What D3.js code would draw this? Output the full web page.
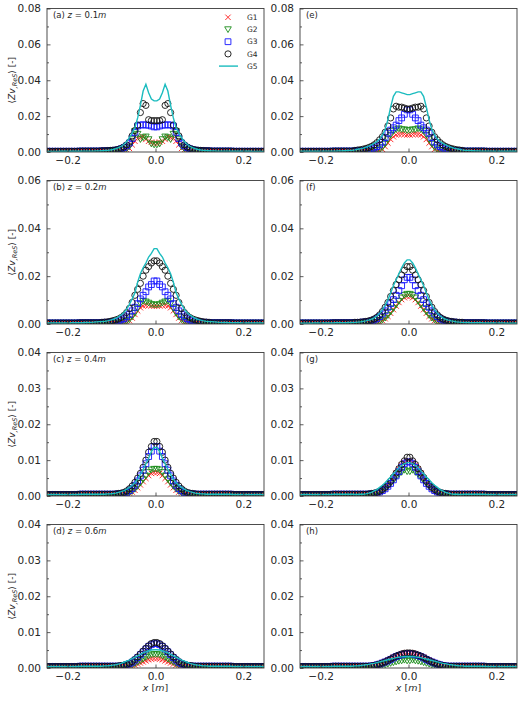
<!DOCTYPE html>
<html><head><meta charset="utf-8">
<script src="https://cdn.jsdelivr.net/npm/d3@7"></script>
<style>
body{margin:0;background:#fff}
svg{display:block}
text{font-family:"DejaVu Sans",sans-serif;fill:#262626}
</style>
</head><body><svg id="c" width="522" height="705"></svg>
<script>
// ---------- DATA ----------
const xGrid = [-.246875,-.240625,-.234375,-.228125,-.221875,-.215625,-.209375,-.203125,-.196875,-.190625,
 -.184375,-.178125,-.171875,-.165625,-.159375,-.153125,-.146875,-.140625,-.134375,-.128125,
 -.121875,-.115625,-.109375,-.103125,-.096875,-.090625,-.084375,-.078125,-.071875,-.065625,
 -.059375,-.053125,-.046875,-.040625,-.034375,-.028125,-.021875,-.015625,-.009375,-.003125,
 .003125,.009375,.015625,.021875,.028125,.034375,.040625,.046875,.053125,.059375,
 .065625,.071875,.078125,.084375,.090625,.096875,.103125,.109375,.115625,.121875,
 .128125,.134375,.140625,.146875,.153125,.159375,.165625,.171875,.178125,.184375,
 .190625,.196875,.203125,.209375,.215625,.221875,.228125,.234375,.240625,.246875];

const seriesNames = ["G1","G2","G3","G4","G5"];
const panelLetters = ["(a)","(b)","(c)","(d)","(e)","(f)","(g)","(h)"];
const panelZ = ["0.1","0.2","0.4","0.6",null,null,null,null];
const yTicks08 = [0,.02,.04,.06,.08], yMinor08 = [.01,.03,.05,.07];
const yTicks06 = [0,.02,.04,.06], yMinor06 = [.01,.03,.05];
const yTicks04 = [0,.01,.02,.03,.04], yMinor04 = [.005,.015,.025,.035];
const xTicks = [-0.2,0,0.2];
const xTickLabels = ["\u22120.2","0.0","0.2"];

// outer (tail) values, |x| > 0.125
const mTailL = [.0004,.0004,.0004,.0004,.0004,.0004,.0004,.0004,.0004,.0004,.0004,.0004,.0005,.0005,.0005,.0005,.0005,.0005,.0005,.0005];
const mTailR = [.0005,.0005,.0005,.0005,.0005,.0005,.0005,.0005,.0004,.0004,.0004,.0004,.0004,.0004,.0004,.0004,.0004,.0004,.0004,.0004];
const lTailL = [.0003,.0003,.0003,.0003,.0003,.0004,.0004,.0004,.0004,.0004,.0004,.0004,.0004,.0005,.0005,.0005,.0005,.0005,.0006,.0006];
const lTailR = [.0006,.0006,.0005,.0005,.0005,.0005,.0005,.0004,.0004,.0004,.0004,.0004,.0004,.0004,.0004,.0003,.0003,.0003,.0003,.0003];
const wTailL = [.0004,.0004,.0004,.0004,.0004,.0004,.0004,.0004,.0004,.0005,.0005,.0005,.0005,.0005,.0006,.0006,.0007,.0008,.0009,.001];
const wTailR = [.001,.0009,.0008,.0007,.0006,.0006,.0005,.0005,.0005,.0005,.0005,.0004,.0004,.0004,.0004,.0004,.0004,.0004,.0004,.0004];

// panel (a) z=0.1
const G1a = [...mTailL, .0005,.0005,.0005,.0005,.0005,.0005,.0005,.0006,.0008,.0012,.002,.004,.006,.0075,.008,.0085,.007,.006,.0055,.005,
 .005,.0055,.006,.007,.0085,.008,.0075,.006,.004,.002,.0012,.0008,.0006,.0005,.0005,.0005,.0005,.0005,.0005,.0005, ...mTailR];
const G2a = [...mTailL, .0005,.0005,.0005,.0005,.0005,.0006,.0007,.0009,.0012,.0018,.003,.007,.0115,.010,.007,.008,.0085,.007,.0045,.004,
 .004,.0045,.007,.0085,.008,.007,.010,.0115,.007,.003,.0018,.0012,.0009,.0007,.0006,.0005,.0005,.0005,.0005,.0005, ...mTailR];
const G3a = [...mTailL, .0006,.0007,.0007,.0008,.0009,.001,.0013,.0018,.0025,.0035,.005,.0075,.011,.0145,.015,.0152,.015,.015,.0145,.014,
 .014,.0145,.015,.015,.0152,.015,.0145,.011,.0075,.005,.0035,.0025,.0018,.0013,.001,.0009,.0008,.0007,.0007,.0006, ...mTailR];
const G4a = [...mTailL, .0007,.0007,.0008,.0009,.001,.0012,.0015,.002,.0028,.004,.0055,.009,.012,.015,.022,.027,.026,.018,.0175,.0175,
 .0175,.0175,.018,.026,.027,.022,.015,.012,.009,.0055,.004,.0028,.002,.0015,.0012,.001,.0009,.0008,.0007,.0007, ...mTailR];
const G5a = [...lTailL, .0007,.0008,.0009,.0011,.0014,.0018,.0024,.0032,.0043,.0058,.008,.0105,.0135,.019,.026,.034,.0378,.033,.0295,.0285,
 .0285,.0295,.033,.0378,.034,.026,.019,.0135,.0105,.008,.0058,.0043,.0032,.0024,.0018,.0014,.0011,.0009,.0008,.0007, ...lTailR];

// panel (b) z=0.2
const G1b = [...mTailL, .0005,.0005,.0005,.0005,.0005,.0005,.0005,.0005,.0006,.0009,.0014,.0025,.004,.0055,.0068,.0075,.0078,.0078,.0076,.0075,
 .0075,.0076,.0078,.0078,.0075,.0068,.0055,.004,.0025,.0014,.0009,.0006,.0005,.0005,.0005,.0005,.0005,.0005,.0005,.0005, ...mTailR];
const G2b = [...mTailL, .0005,.0005,.0005,.0005,.0005,.0005,.0005,.0006,.0008,.0012,.0018,.003,.0045,.0065,.0085,.0095,.0093,.0088,.0082,.008,
 .008,.0082,.0088,.0093,.0095,.0085,.0065,.0045,.003,.0018,.0012,.0008,.0006,.0005,.0005,.0005,.0005,.0005,.0005,.0005, ...mTailR];
const G3b = [...mTailL, .0006,.0007,.0007,.0008,.0009,.001,.0013,.0017,.0022,.003,.004,.0055,.007,.0085,.0105,.012,.0135,.0155,.0165,.018,
 .018,.0165,.0155,.0135,.012,.0105,.0085,.007,.0055,.004,.003,.0022,.0017,.0013,.001,.0009,.0008,.0007,.0007,.0006, ...mTailR];
const G4b = [...mTailL, .0007,.0008,.0009,.0011,.0014,.0017,.0021,.0027,.0036,.0048,.0065,.009,.012,.0145,.017,.020,.0225,.024,.0255,.0264,
 .0264,.0255,.024,.0225,.020,.017,.0145,.012,.009,.0065,.0048,.0036,.0027,.0021,.0017,.0014,.0011,.0009,.0008,.0007, ...mTailR];
const G5b = [...wTailL, .001,.0011,.0013,.0016,.0019,.0024,.003,.0038,.0048,.0062,.0082,.0105,.013,.0175,.021,.0235,.0255,.028,.0295,.0315,
 .0315,.0295,.028,.0255,.0235,.021,.0175,.013,.0105,.0082,.0062,.0048,.0038,.003,.0024,.0019,.0016,.0013,.0011,.001, ...wTailR];

// panel (c) z=0.4
const G1c = [...mTailL, .0005,.0005,.0005,.0005,.0005,.0005,.0005,.0005,.0005,.0006,.0008,.0011,.0016,.0023,.0031,.004,.0049,.0057,.0063,.0065,
 .0065,.0063,.0057,.0049,.004,.0031,.0023,.0016,.0011,.0008,.0006,.0005,.0005,.0005,.0005,.0005,.0005,.0005,.0005,.0005, ...mTailR];
const G2c = [...mTailL, .0005,.0005,.0005,.0005,.0005,.0005,.0005,.0005,.0006,.0007,.0009,.0013,.0019,.0027,.0036,.0046,.0056,.0066,.0073,.0075,
 .0075,.0073,.0066,.0056,.0046,.0036,.0027,.0019,.0013,.0009,.0007,.0006,.0005,.0005,.0005,.0005,.0005,.0005,.0005,.0005, ...mTailR];
const G3c = [...mTailL, .0005,.0005,.0005,.0005,.0005,.0005,.0006,.0007,.0008,.001,.0015,.0021,.003,.0042,.0056,.0072,.009,.011,.0125,.0138,
 .0138,.0125,.011,.009,.0072,.0056,.0042,.003,.0021,.0015,.001,.0008,.0007,.0006,.0005,.0005,.0005,.0005,.0005,.0005, ...mTailR];
const G4c = [...mTailL, .0005,.0005,.0005,.0005,.0005,.0006,.0007,.0008,.001,.0014,.002,.0028,.0038,.005,.0063,.008,.010,.0122,.0138,.0152,
 .0152,.0138,.0122,.010,.008,.0063,.005,.0038,.0028,.002,.0014,.001,.0008,.0007,.0006,.0005,.0005,.0005,.0005,.0005, ...mTailR];
const G5c = [...mTailL, .0005,.0005,.0006,.0006,.0007,.0008,.001,.0012,.0015,.0019,.0024,.003,.0037,.0047,.006,.0074,.009,.0105,.0124,.0135,
 .0135,.0124,.0105,.009,.0074,.006,.0047,.0037,.003,.0024,.0019,.0015,.0012,.001,.0008,.0007,.0006,.0006,.0005,.0005, ...mTailR];

// panel (d) z=0.6
const G1d = [...mTailL, .0005,.0005,.0005,.0005,.0005,.0005,.0005,.0005,.0005,.0005,.0006,.0007,.0008,.0011,.0014,.0017,.002,.0023,.0025,.0026,
 .0026,.0025,.0023,.002,.0017,.0014,.0011,.0008,.0007,.0006,.0005,.0005,.0005,.0005,.0005,.0005,.0005,.0005,.0005,.0005, ...mTailR];
const G2d = [...mTailL, .0005,.0005,.0005,.0005,.0005,.0005,.0005,.0005,.0005,.0006,.0007,.0009,.0012,.0016,.002,.0025,.003,.0034,.0037,.0038,
 .0038,.0037,.0034,.003,.0025,.002,.0016,.0012,.0009,.0007,.0006,.0005,.0005,.0005,.0005,.0005,.0005,.0005,.0005,.0005, ...mTailR];
const G3d = [...mTailL, .0005,.0005,.0005,.0005,.0005,.0005,.0005,.0006,.0007,.0009,.0012,.0016,.0022,.0029,.0037,.0045,.0053,.006,.0065,.0068,
 .0068,.0065,.006,.0053,.0045,.0037,.0029,.0022,.0016,.0012,.0009,.0007,.0006,.0005,.0005,.0005,.0005,.0005,.0005,.0005, ...mTailR];
const G4d = [...mTailL, .0005,.0005,.0005,.0005,.0005,.0005,.0006,.0007,.0008,.001,.0013,.0018,.0024,.0031,.0039,.0047,.0055,.0062,.0068,.0071,
 .0071,.0068,.0062,.0055,.0047,.0039,.0031,.0024,.0018,.0013,.001,.0008,.0007,.0006,.0005,.0005,.0005,.0005,.0005,.0005, ...mTailR];
const G5d = [...mTailL, .0005,.0006,.0006,.0007,.0008,.0009,.0011,.0013,.0016,.0019,.0022,.0026,.003,.0034,.0038,.0042,.0045,.0048,.005,.0051,
 .0051,.005,.0048,.0045,.0042,.0038,.0034,.003,.0026,.0022,.0019,.0016,.0013,.0011,.0009,.0008,.0007,.0006,.0006,.0005, ...mTailR];

// panel (e)
const G1e = [...mTailL, .0005,.0005,.0005,.0005,.0005,.0005,.0005,.0005,.0006,.0008,.0015,.003,.005,.007,.0085,.0095,.0098,.010,.0098,.0095,
 .0095,.0098,.010,.0098,.0095,.0085,.007,.005,.003,.0015,.0008,.0006,.0005,.0005,.0005,.0005,.0005,.0005,.0005,.0005, ...mTailR];
const G2e = [...mTailL, .0005,.0005,.0005,.0005,.0005,.0006,.0006,.0007,.0009,.0014,.0025,.0045,.007,.0095,.0115,.0125,.013,.0125,.0125,.012,
 .012,.0125,.0125,.013,.0125,.0115,.0095,.007,.0045,.0025,.0014,.0009,.0007,.0006,.0006,.0005,.0005,.0005,.0005,.0005, ...mTailR];
const G3e = [...mTailL, .0006,.0007,.0008,.0009,.0011,.0013,.0017,.0022,.003,.004,.0055,.008,.0105,.0122,.0135,.015,.0175,.019,.021,.0235,
 .0235,.021,.019,.0175,.015,.0135,.0122,.0105,.008,.0055,.004,.003,.0022,.0017,.0013,.0011,.0009,.0008,.0007,.0006, ...mTailR];
const G4e = [...mTailL, .0009,.0011,.0013,.0016,.002,.0025,.0031,.004,.0052,.0068,.0085,.011,.0145,.019,.024,.0255,.025,.025,.0245,.024,
 .024,.0245,.025,.025,.0255,.024,.019,.0145,.011,.0085,.0068,.0052,.004,.0031,.0025,.002,.0016,.0013,.0011,.0009, ...mTailR];
const G5e = [...wTailL, .0012,.0015,.0018,.0022,.0027,.0033,.004,.0048,.0058,.0072,.0095,.0125,.018,.025,.031,.0335,.0335,.033,.0325,.032,
 .032,.0325,.033,.0335,.0335,.031,.025,.018,.0125,.0095,.0072,.0058,.0048,.004,.0033,.0027,.0022,.0018,.0015,.0012, ...wTailR];

// panel (f)
const G1f = [...mTailL, .0005,.0005,.0005,.0005,.0005,.0005,.0005,.0005,.0006,.0009,.0014,.0022,.0032,.0045,.006,.0075,.009,.0102,.011,.0115,
 .0115,.011,.0102,.009,.0075,.006,.0045,.0032,.0022,.0014,.0009,.0006,.0005,.0005,.0005,.0005,.0005,.0005,.0005,.0005, ...mTailR];
const G2f = [...mTailL, .0005,.0005,.0005,.0005,.0005,.0005,.0005,.0006,.0008,.0011,.0017,.0025,.0036,.005,.0065,.008,.0095,.011,.012,.0125,
 .0125,.012,.011,.0095,.008,.0065,.005,.0036,.0025,.0017,.0011,.0008,.0006,.0005,.0005,.0005,.0005,.0005,.0005,.0005, ...mTailR];
const G3f = [...mTailL, .0006,.0006,.0007,.0008,.0009,.001,.0013,.0017,.0023,.0031,.0042,.0055,.007,.0085,.0102,.012,.014,.016,.0185,.0195,
 .0195,.0185,.016,.014,.012,.0102,.0085,.007,.0055,.0042,.0031,.0023,.0017,.0013,.001,.0009,.0008,.0007,.0006,.0006, ...mTailR];
const G4f = [...mTailL, .0007,.0007,.0008,.0009,.0011,.0013,.0016,.0021,.0028,.0038,.0052,.007,.009,.0115,.014,.0165,.0185,.0205,.0225,.024,
 .024,.0225,.0205,.0185,.0165,.014,.0115,.009,.007,.0052,.0038,.0028,.0021,.0016,.0013,.0011,.0009,.0008,.0007,.0007, ...mTailR];
const G5f = [...lTailL, .0007,.0008,.0009,.0011,.0013,.0016,.002,.0026,.0034,.0045,.006,.0078,.0102,.013,.016,.0185,.021,.0235,.0255,.0268,
 .0268,.0255,.0235,.021,.0185,.016,.013,.0102,.0078,.006,.0045,.0034,.0026,.002,.0016,.0013,.0011,.0009,.0008,.0007, ...lTailR];

// panel (g)
const G1g = [...mTailL, .0005,.0005,.0005,.0005,.0005,.0005,.0006,.0007,.0009,.0012,.0017,.0023,.0031,.004,.0051,.0063,.0075,.0086,.0094,.0098,
 .0098,.0094,.0086,.0075,.0063,.0051,.004,.0031,.0023,.0017,.0012,.0009,.0007,.0006,.0005,.0005,.0005,.0005,.0005,.0005, ...mTailR];
const G2g = [...mTailL, .0005,.0005,.0005,.0005,.0005,.0005,.0005,.0006,.0008,.0011,.0015,.002,.0027,.0035,.0043,.0052,.006,.0066,.0072,.0068,
 .0068,.0072,.0066,.006,.0052,.0043,.0035,.0027,.002,.0015,.0011,.0008,.0006,.0005,.0005,.0005,.0005,.0005,.0005,.0005, ...mTailR];
const G3g = [...mTailL, .0005,.0005,.0005,.0005,.0005,.0005,.0006,.0007,.0008,.0011,.0015,.002,.0027,.0035,.0045,.0056,.0068,.008,.009,.0095,
 .0095,.009,.008,.0068,.0056,.0045,.0035,.0027,.002,.0015,.0011,.0008,.0007,.0006,.0005,.0005,.0005,.0005,.0005,.0005, ...mTailR];
const G4g = [...mTailL, .0005,.0005,.0005,.0005,.0005,.0006,.0007,.0008,.001,.0013,.0018,.0024,.0032,.0041,.0052,.0064,.0076,.0088,.0098,.0108,
 .0108,.0098,.0088,.0076,.0064,.0052,.0041,.0032,.0024,.0018,.0013,.001,.0008,.0007,.0006,.0005,.0005,.0005,.0005,.0005, ...mTailR];
const G5g = [...mTailL, .0004,.0004,.0005,.0005,.0006,.0008,.001,.0014,.0018,.0024,.003,.0037,.0045,.0053,.0062,.007,.0078,.0085,.009,.0093,
 .0093,.009,.0085,.0078,.007,.0062,.0053,.0045,.0037,.003,.0024,.0018,.0014,.001,.0008,.0006,.0005,.0005,.0004,.0004, ...mTailR];

// panel (h)
const G1h = [...mTailL, .0005,.0005,.0005,.0005,.0005,.0005,.0006,.0007,.0009,.0012,.0015,.0018,.0022,.0026,.003,.0034,.0037,.004,.0042,.0043,
 .0043,.0042,.004,.0037,.0034,.003,.0026,.0022,.0018,.0015,.0012,.0009,.0007,.0006,.0005,.0005,.0005,.0005,.0005,.0005, ...mTailR];
const G2h = [...mTailL, .0005,.0005,.0005,.0005,.0005,.0005,.0005,.0005,.0006,.0007,.0008,.0009,.0011,.0013,.0015,.0017,.0019,.002,.0022,.002,
 .002,.0022,.002,.0019,.0017,.0015,.0013,.0011,.0009,.0008,.0007,.0006,.0005,.0005,.0005,.0005,.0005,.0005,.0005,.0005, ...mTailR];
const G3h = [...mTailL, .0005,.0005,.0005,.0005,.0005,.0005,.0006,.0007,.0009,.0011,.0014,.0017,.002,.0024,.0028,.0032,.0035,.0037,.0039,.004,
 .004,.0039,.0037,.0035,.0032,.0028,.0024,.002,.0017,.0014,.0011,.0009,.0007,.0006,.0005,.0005,.0005,.0005,.0005,.0005, ...mTailR];
const G4h = [...mTailL, .0005,.0005,.0005,.0005,.0005,.0005,.0006,.0007,.0009,.0011,.0014,.0017,.0021,.0025,.0029,.0033,.0036,.0039,.0041,.0042,
 .0042,.0041,.0039,.0036,.0033,.0029,.0025,.0021,.0017,.0014,.0011,.0009,.0007,.0006,.0005,.0005,.0005,.0005,.0005,.0005, ...mTailR];
const G5h = [...mTailL, .0006,.0006,.0007,.0008,.0009,.001,.0012,.0013,.0015,.0017,.0019,.0021,.0023,.0025,.0027,.0029,.003,.0031,.0032,.0032,
 .0032,.0032,.0031,.003,.0029,.0027,.0025,.0023,.0021,.0019,.0017,.0015,.0013,.0012,.001,.0009,.0008,.0007,.0006,.0006, ...mTailR];

// ---------- PANEL TABLE ----------
const panels = [
  {col:0,row:0,yMax:.08,ticks:yTicks08,minor:yMinor08,s:[G1a,G2a,G3a,G4a,G5a]},
  {col:0,row:1,yMax:.06,ticks:yTicks06,minor:yMinor06,s:[G1b,G2b,G3b,G4b,G5b]},
  {col:0,row:2,yMax:.04,ticks:yTicks04,minor:yMinor04,s:[G1c,G2c,G3c,G4c,G5c]},
  {col:0,row:3,yMax:.04,ticks:yTicks04,minor:yMinor04,s:[G1d,G2d,G3d,G4d,G5d]},
  {col:1,row:0,yMax:.08,ticks:yTicks08,minor:yMinor08,s:[G1e,G2e,G3e,G4e,G5e]},
  {col:1,row:1,yMax:.06,ticks:yTicks06,minor:yMinor06,s:[G1f,G2f,G3f,G4f,G5f]},
  {col:1,row:2,yMax:.04,ticks:yTicks04,minor:yMinor04,s:[G1g,G2g,G3g,G4g,G5g]},
  {col:1,row:3,yMax:.04,ticks:yTicks04,minor:yMinor04,s:[G1h,G2h,G3h,G4h,G5h]}
];

// ---------- STYLE / LAYOUT ----------
const W = 217, H = 143.5;
const colX = [47, 300], rowY = [8.5, 180.5, 352.5, 524.5];
const colors = ["#ff1a1a","#1a8c1a","#1414ff","#111111","#1cbcbf"];
const shapes = [
  "M-2.7,-2.7L2.7,2.7M-2.7,2.7L2.7,-2.7",
  "M0,3L3.3,-2.7L-3.3,-2.7Z",
  "M-2.9,-2.9H2.9V2.9H-2.9Z",
  "M3.1,0A3.1,3.1 0 1,1 -3.1,0A3.1,3.1 0 1,1 3.1,0Z"
];
const TICKFONT = 10.5;

const svg = d3.select("#c");
const x = d3.scaleLinear().domain([xGrid[0], xGrid[xGrid.length-1]]).range([0, W]);

panels.forEach((p, i) => {
  const g = svg.append("g").attr("transform", `translate(${colX[p.col]},${rowY[p.row]})`);
  const y = d3.scaleLinear().domain([0, p.yMax]).range([H, 0]);

  g.append("clipPath").attr("id", "clip" + i)
    .append("rect").attr("width", W).attr("height", H);
  const plot = g.append("g").attr("clip-path", `url(#clip${i})`);

  for (let k = 0; k < 4; k++) {
    plot.append("g").selectAll("path")
      .data(xGrid.map((xv, j) => [xv, p.s[k][j]]))
      .join("path")
      .attr("transform", d => `translate(${x(d[0])},${y(d[1])})`)
      .attr("d", shapes[k])
      .attr("fill", "none")
      .attr("stroke", colors[k])
      .attr("stroke-width", 0.9);
  }
  plot.append("path")
    .datum(xGrid.map((xv, j) => [xv, p.s[4][j]]))
    .attr("d", d3.line().x(d => x(d[0])).y(d => y(d[1])))
    .attr("fill", "none").attr("stroke", colors[4]).attr("stroke-width", 1.4);

  // axes
  const ya = g.append("g")
    .call(d3.axisLeft(y).tickValues(p.ticks).tickFormat(d3.format(".2f")).tickSize(-3.5).tickPadding(6));
  const ym = g.append("g")
    .call(d3.axisLeft(y).tickValues(p.minor).tickFormat("").tickSize(-2));
  const xa = g.append("g").attr("transform", `translate(0,${H})`)
    .call(d3.axisBottom(x).tickValues(xTicks).tickFormat((d, k) => xTickLabels[k]).tickSize(-3.5).tickPadding(4.5));
  [ya, ym, xa].forEach(a => {
    a.select(".domain").remove();
    a.attr("font-family", "DejaVu Sans").attr("font-size", TICKFONT).attr("color", "#333");
    a.selectAll("line").attr("stroke-width", 0.8);
    a.selectAll("text").attr("fill", "#262626");
  });

  g.append("rect").attr("width", W).attr("height", H)
    .attr("fill", "none").attr("stroke", "#3a3a3a").attr("stroke-width", 0.9);

  // panel label
  const t = g.append("text").attr("x", 6).attr("y", 9).attr("font-size", 8.5);
  t.append("tspan").text(panelLetters[i]);
  if (panelZ[i]) {
    t.append("tspan").text(" ");
    t.append("tspan").attr("font-style", "italic").text("z");
    t.append("tspan").text(" = " + panelZ[i]);
    t.append("tspan").attr("font-style", "italic").text("m");
  }

  // y label (left column)
  if (p.col === 0) {
    const yl = g.append("text")
      .attr("transform", `translate(-32,${H/2}) rotate(-90)`)
      .attr("text-anchor", "middle").attr("font-size", 9);
    yl.append("tspan").text("\u27E8");
    yl.append("tspan").attr("font-style", "italic").text("Zv");
    yl.append("tspan").attr("font-style", "italic").attr("font-size", 6.5).attr("dy", 2).text(",ReS");
    yl.append("tspan").attr("dy", -2).text("\u27E9 [-]");
  }
  // x label (bottom row)
  if (p.row === 3) {
    const xl = g.append("text").attr("x", W/2).attr("y", H + 23)
      .attr("text-anchor", "middle").attr("font-size", 9.5);
    xl.append("tspan").attr("font-style", "italic").text("x");
    xl.append("tspan").text(" [");
    xl.append("tspan").attr("font-style", "italic").text("m");
    xl.append("tspan").text("]");
  }

  // legend (panel a)
  if (i === 0) {
    const lg = g.append("g");
    seriesNames.forEach((name, k) => {
      const ry = 8.8 + 12.2 * k;
      if (k < 4) {
        lg.append("path").attr("transform", `translate(181,${ry})`).attr("d", shapes[k])
          .attr("fill", "none").attr("stroke", colors[k]).attr("stroke-width", 0.9);
      } else {
        lg.append("line").attr("x1", 172).attr("x2", 191).attr("y1", ry).attr("y2", ry)
          .attr("stroke", colors[4]).attr("stroke-width", 1.4);
      }
      lg.append("text").attr("x", 200).attr("y", ry).attr("dy", "0.35em")
        .attr("font-size", 7.5).text(name);
    });
  }
});
</script>
</body></html>
